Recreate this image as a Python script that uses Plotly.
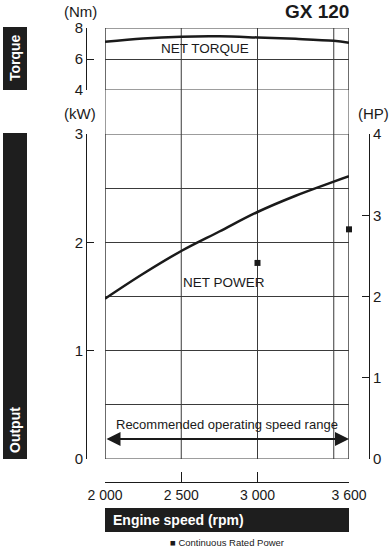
import plotly.graph_objects as go

# ---- data ----
rpm = [2000, 2250, 2500, 2750, 3000, 3250, 3500, 3600]
torque_nm = [7.12, 7.33, 7.44, 7.46, 7.39, 7.30, 7.17, 7.05]
power_kw = [1.48, 1.71, 1.92, 2.10, 2.28, 2.43, 2.56, 2.61]
rated_rpm = [3000, 3600]
rated_kw = [1.81, 2.12]
x_tickvals = [2000, 2500, 3000, 3600]
x_ticktext = ["2 000", "2 500", "3 000", "3 600"]
grid_rpm = [2000, 2500, 3000, 3500, 3600]
torque_ticks = [4, 6, 8]
kw_ticks = [0, 1, 2, 3]
hp_ticks = [0, 1, 2, 3, 4]

W, H = 389, 550
L, R, T, B = 86, 20, 28, 68
PW = W - L - R
PH = H - T - B


def px_x(p):
    return (p - L) / PW


def px_y(p):
    return (H - B - p) / PH


FONT = "Liberation Sans, Arial, sans-serif"
INK = "#1a1a1a"
GRID = "#3a3a3a"

x_dom = [px_x(105), px_x(349)]
torque_dom = [px_y(90), px_y(28)]
out_dom = [px_y(459), px_y(134)]

fig = go.Figure()
fig.add_trace(go.Scatter(x=rpm, y=torque_nm, mode="lines", line=dict(color=INK, width=2.5, shape="spline"),
                         xaxis="x", yaxis="y", hoverinfo="skip"))
fig.add_trace(go.Scatter(x=rpm, y=power_kw, mode="lines", line=dict(color=INK, width=2.5, shape="spline"),
                         xaxis="x", yaxis="y2", hoverinfo="skip"))
fig.add_trace(go.Scatter(x=rated_rpm, y=rated_kw, mode="markers",
                         marker=dict(symbol="square", size=6, color=INK), xaxis="x", yaxis="y2",
                         hoverinfo="skip", cliponaxis=False))
# invisible helpers so the display axes are drawn
for ya in ["y3", "y4", "y5"]:
    fig.add_trace(go.Scatter(x=[None], y=[None], mode="markers", xaxis="x", yaxis=ya,
                             hoverinfo="skip", showlegend=False))

ax_common = dict(showline=True, linecolor=INK, linewidth=1, ticks="inside", ticklen=7, tickcolor=INK,
                 tickwidth=1, tickfont=dict(family=FONT, size=15, color=INK), showgrid=False,
                 zeroline=False, fixedrange=True, automargin=False)

fig.update_layout(
    width=W, height=H,
    margin=dict(l=L, r=R, t=T, b=B, autoexpand=False),
    paper_bgcolor="white", plot_bgcolor="white",
    showlegend=False, hovermode=False,
    xaxis=dict(domain=x_dom, range=[2000, 3600], anchor="free", position=0,
               tickvals=x_tickvals, ticktext=x_ticktext, showline=True, linecolor=INK, linewidth=1,
               ticks="inside", ticklen=10, tickcolor=INK, tickfont=dict(family=FONT, size=14, color=INK),
               showgrid=False, zeroline=False, fixedrange=True, automargin=False),
    yaxis=dict(domain=torque_dom, range=[4, 8], anchor="x", tickvals=torque_ticks, showticklabels=False,
               showline=False, showgrid=True, gridcolor=GRID, gridwidth=1, zeroline=False, fixedrange=True,
               automargin=False),
    yaxis2=dict(domain=out_dom, range=[0, 3], anchor="x", tickvals=kw_ticks, showticklabels=False,
                showline=False, showgrid=True, gridcolor=GRID, gridwidth=1, zeroline=False,
                minor=dict(dtick=0.5, showgrid=True, gridcolor=GRID, gridwidth=1), fixedrange=True,
                automargin=False),
    yaxis3=dict(overlaying="y", anchor="free", position=0, side="left", range=[4, 8],
                tickvals=torque_ticks, **ax_common),
    yaxis4=dict(overlaying="y2", anchor="free", position=0, side="left", range=[0, 3],
                tickvals=kw_ticks, **ax_common),
    yaxis5=dict(overlaying="y2", anchor="free", position=1, side="right", range=[0, 4],
                tickvals=hp_ticks, **ax_common),
)

shapes = []
# vertical gridlines spanning both panels
for r in grid_rpm:
    shapes.append(dict(type="line", xref="x", yref="paper", x0=r, x1=r, y0=out_dom[0], y1=torque_dom[1],
                       line=dict(color=GRID, width=1), layer="below"))
# panel frames
shapes.append(dict(type="rect", xref="x", yref="y", x0=2000, x1=3600, y0=4, y1=8,
                   line=dict(color=GRID, width=1), layer="below"))
shapes.append(dict(type="rect", xref="x", yref="y2", x0=2000, x1=3600, y0=0, y1=3,
                   line=dict(color=GRID, width=1), layer="below"))
# black label boxes
shapes.append(dict(type="rect", xref="paper", yref="paper", x0=px_x(3), x1=px_x(27), y0=px_y(90), y1=px_y(27),
                   fillcolor="#1e1e1e", line=dict(width=0)))
shapes.append(dict(type="rect", xref="paper", yref="paper", x0=px_x(3), x1=px_x(27), y0=px_y(459), y1=px_y(133),
                   fillcolor="#1e1e1e", line=dict(width=0)))
shapes.append(dict(type="rect", xref="paper", yref="paper", x0=px_x(105), x1=px_x(349), y0=px_y(532), y1=px_y(508),
                   fillcolor="#1e1e1e", line=dict(width=0)))
fig.update_layout(shapes=shapes)

ann = []


def text(x, y, s, size=14, color=INK, bold=False, xanchor="center", yanchor="middle", angle=0, family=FONT):
    ann.append(dict(xref="paper", yref="paper", x=px_x(x), y=px_y(y), text=("<b>%s</b>" % s) if bold else s,
                    showarrow=False, xanchor=xanchor, yanchor=yanchor, textangle=angle,
                    font=dict(family=family, size=size, color=color)))


text(80, 11, "(Nm)", size=15)
text(80, 113, "(kW)", size=15)
text(373, 113, "(HP)", size=15)
text(351, 12, "GX 120", size=19, bold=True, xanchor="right")
text(15, 58, "Torque", size=14, color="white", bold=True, angle=-90)
text(15, 430, "Output", size=14, color="white", bold=True, angle=-90)
text(111, 520, "Engine speed (rpm)", size=14, color="white", bold=True, xanchor="left")
text(227, 542, "■ Continuous Rated Power", size=9.5)

ann.append(dict(xref="x", yref="y", x=2656, y=6.69, text="NET TORQUE", showarrow=False,
                font=dict(family=FONT, size=13.5, color=INK)))
ann.append(dict(xref="x", yref="y2", x=2780, y=1.63, text="NET POWER", showarrow=False,
                font=dict(family=FONT, size=13.5, color=INK)))
ann.append(dict(xref="x", yref="y2", x=2800, y=0.32, text="Recommended operating speed range", showarrow=False,
                font=dict(family=FONT, size=13, color=INK)))
ann.append(dict(xref="x", yref="y2", x=3600, y=0.185, axref="x", ayref="y2", ax=2000, ay=0.185, text="",
                showarrow=True, arrowhead=2, arrowside="end+start", arrowwidth=2, arrowsize=1.4,
                arrowcolor=INK, standoff=0, startstandoff=0))
fig.update_layout(annotations=ann)

fig.write_html("out.html", config={"displayModeBar": False, "staticPlot": True},
               post_script="document.body.style.margin='0px';")
